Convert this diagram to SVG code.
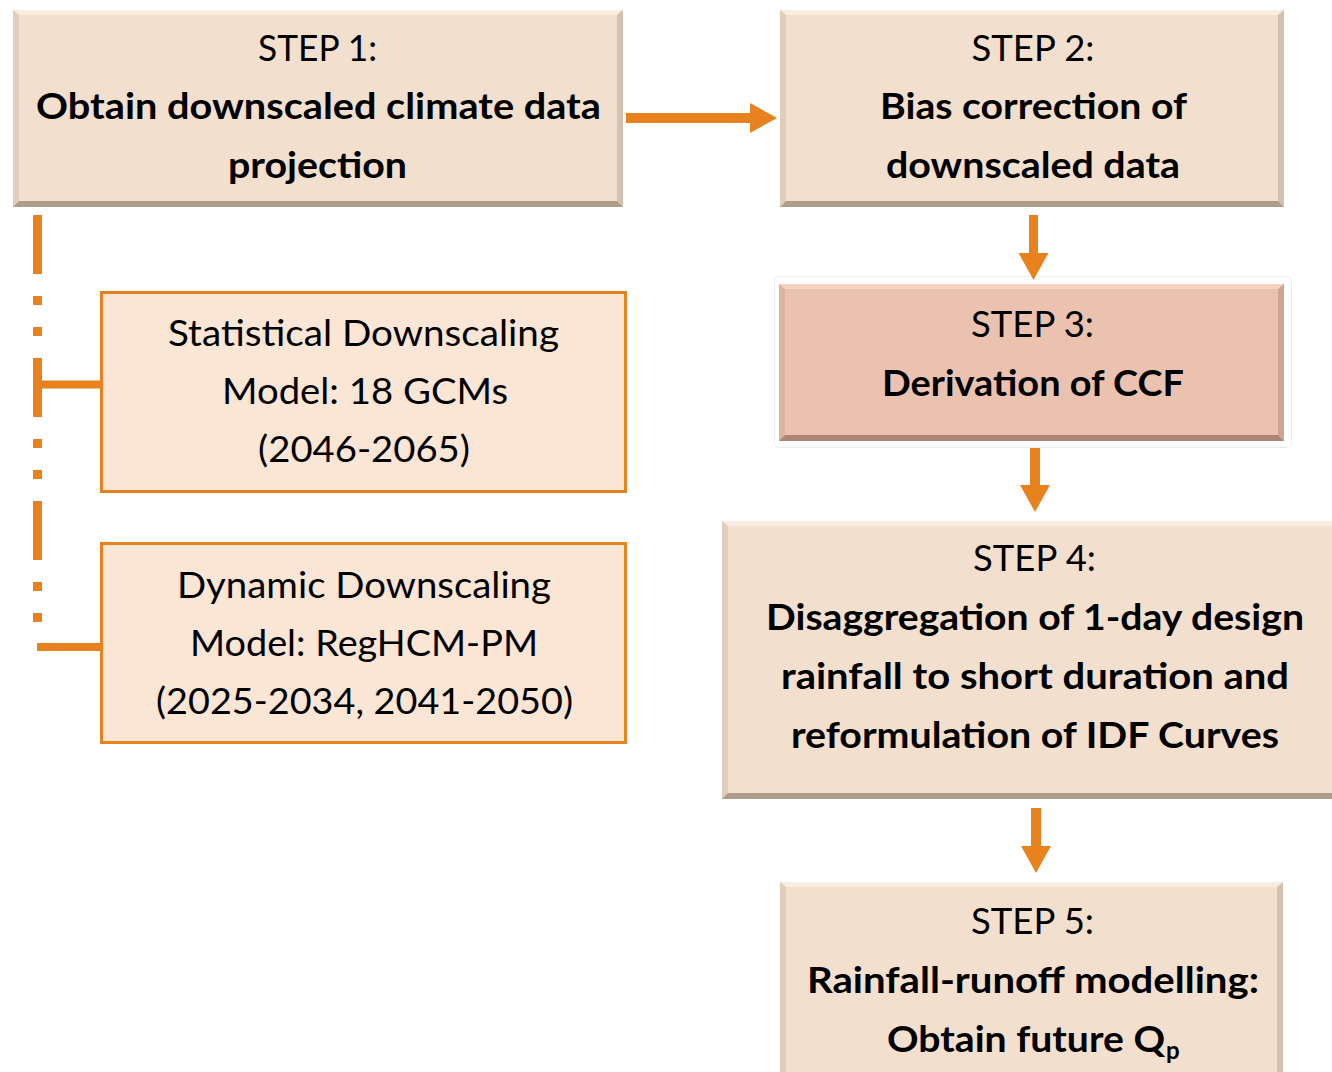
<svg xmlns="http://www.w3.org/2000/svg" width="1332" height="1072" viewBox="0 0 1332 1072">
<defs>
<style>
.t{font-family:Lato,"Open Sans","Liberation Sans",sans-serif;font-size:37px;fill:#000;text-anchor:middle}
.b{font-weight:bold}
.fill{fill:#F2DFCD}
.top{fill:#F9ECE0}
.side{fill:#E2CDBA}
.rside{fill:#D5C1AF}
.bot{fill:#AE9C8D}
.fill3{fill:#EBC2AF}
.top3{fill:#F7D3C1}
.side3{fill:#DDB29E}
.rside3{fill:#CFA592}
.bot3{fill:#AE8573}
.sub{fill:#FBE5D4;stroke:#E8821E;stroke-width:3}
.con{stroke:#E8821E;fill:none}
</style>
<marker id="ah" viewBox="0 0 27 30" markerWidth="27" markerHeight="30" refX="0" refY="15" orient="auto" markerUnits="userSpaceOnUse">
<path d="M0,0 L27,15 L0,30 Z" fill="#E8821E"/>
</marker>
</defs>
<rect width="1332" height="1072" fill="#fff"/>

<g id="step1">
<rect x="13" y="10" width="610" height="197" class="fill"/>
<polygon points="13,10 623,10 617,15 19,15" class="top"/>
<polygon points="13,10 19,15 19,201 13,207" class="side"/>
<polygon points="623,10 617,15 617,201 623,207" class="rside"/>
<polygon points="13,207 19,201 617,201 623,207" class="bot"/>
<text class="t" x="317.5" y="61" textLength="119" lengthAdjust="spacingAndGlyphs">STEP 1:</text>
<text class="t b" x="318.5" y="119" textLength="565" lengthAdjust="spacingAndGlyphs">Obtain downscaled climate data</text>
<text class="t b" x="317.5" y="178" textLength="179" lengthAdjust="spacingAndGlyphs">projection</text>
</g>

<g id="step2">
<rect x="780" y="10" width="504" height="197" class="fill"/>
<polygon points="780,10 1284,10 1278,15 786,15" class="top"/>
<polygon points="780,10 786,15 786,201 780,207" class="side"/>
<polygon points="1284,10 1278,15 1278,201 1284,207" class="rside"/>
<polygon points="780,207 786,201 1278,201 1284,207" class="bot"/>
<text class="t" x="1033" y="61" textLength="123" lengthAdjust="spacingAndGlyphs">STEP 2:</text>
<text class="t b" x="1033.5" y="119" textLength="307" lengthAdjust="spacingAndGlyphs">Bias correction of</text>
<text class="t b" x="1033" y="178" textLength="294" lengthAdjust="spacingAndGlyphs">downscaled data</text>
</g>

<g id="step3">
<rect x="774.5" y="276.5" width="517" height="171" rx="4" fill="#fff" stroke="#ECECEC"/>
<rect x="779" y="284" width="505" height="157" class="fill3"/>
<polygon points="779,284 1284,284 1278,289 785,289" class="top3"/>
<polygon points="779,284 785,289 785,435 779,441" class="side3"/>
<polygon points="1284,284 1278,289 1278,435 1284,441" class="rside3"/>
<polygon points="779,441 785,435 1278,435 1284,441" class="bot3"/>
<text class="t" x="1032.5" y="337" textLength="123" lengthAdjust="spacingAndGlyphs">STEP 3:</text>
<text class="t b" x="1033" y="396" textLength="302" lengthAdjust="spacingAndGlyphs">Derivation of CCF</text>
</g>

<g id="step4">
<rect x="722" y="521" width="620" height="278" class="fill"/>
<polygon points="722,521 1342,521 1336,526 728,526" class="top"/>
<polygon points="722,521 728,526 728,793 722,799" class="side"/>
<polygon points="722,799 728,793 1336,793 1342,799" class="bot"/>
<text class="t" x="1034.5" y="571" textLength="123" lengthAdjust="spacingAndGlyphs">STEP 4:</text>
<text class="t b" x="1035" y="630" textLength="538" lengthAdjust="spacingAndGlyphs">Disaggregation of 1-day design</text>
<text class="t b" x="1035" y="689" textLength="508" lengthAdjust="spacingAndGlyphs">rainfall to short duration and</text>
<text class="t b" x="1035" y="748" textLength="488" lengthAdjust="spacingAndGlyphs">reformulation of IDF Curves</text>
</g>

<g id="step5">
<rect x="780" y="882" width="503" height="200" class="fill"/>
<polygon points="780,882 1283,882 1277,887 786,887" class="top"/>
<polygon points="780,882 786,887 786,1082 780,1082" class="side"/>
<polygon points="1283,882 1277,887 1277,1082 1283,1082" class="rside"/>
<text class="t" x="1032.5" y="934" textLength="123" lengthAdjust="spacingAndGlyphs">STEP 5:</text>
<text class="t b" x="1033" y="993" textLength="452" lengthAdjust="spacingAndGlyphs">Rainfall-runoff modelling:</text>
<text class="t b" x="887" y="1052" style="text-anchor:start"><tspan textLength="278" lengthAdjust="spacingAndGlyphs">Obtain future Q</tspan><tspan x="1166" y="1059" font-size="24">p</tspan></text>
</g>

<g id="statistical">
<rect x="101.5" y="292.5" width="524" height="199" class="sub"/>
<text class="t" x="363.5" y="346" textLength="391" lengthAdjust="spacingAndGlyphs">Statistical Downscaling</text>
<text class="t" x="365" y="404" textLength="286" lengthAdjust="spacingAndGlyphs">Model: 18 GCMs</text>
<text class="t" x="364" y="462" textLength="212" lengthAdjust="spacingAndGlyphs">(2046-2065)</text>
</g>

<g id="dynamic">
<rect x="101.5" y="543.5" width="524" height="199" class="sub"/>
<text class="t" x="364" y="598" textLength="374" lengthAdjust="spacingAndGlyphs">Dynamic Downscaling</text>
<text class="t" x="364" y="656" textLength="348" lengthAdjust="spacingAndGlyphs">Model: RegHCM-PM</text>
<text class="t" x="364.5" y="714" textLength="417" lengthAdjust="spacingAndGlyphs">(2025-2034, 2041-2050)</text>
</g>

<g id="connectors">
<line x1="626" y1="118" x2="750" y2="118" class="con" stroke-width="10" marker-end="url(#ah)"/>
<line x1="1033.5" y1="215" x2="1033.5" y2="253" class="con" stroke-width="9" marker-end="url(#ah)"/>
<line x1="1035" y1="448" x2="1035" y2="485" class="con" stroke-width="10" marker-end="url(#ah)"/>
<line x1="1036" y1="808" x2="1036" y2="846" class="con" stroke-width="10" marker-end="url(#ah)"/>
<line x1="37.5" y1="215" x2="37.5" y2="626" class="con" stroke-width="9" stroke-dasharray="59 22 9 22 9 22"/>
<line x1="42" y1="384.5" x2="100" y2="384.5" class="con" stroke-width="8"/>
<line x1="37" y1="647" x2="100" y2="647" class="con" stroke-width="8"/>
</g>
</svg>
